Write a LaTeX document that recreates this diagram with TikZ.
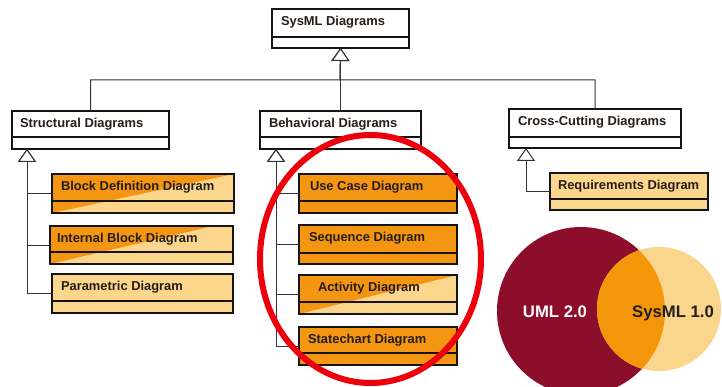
\documentclass[tikz,border=0pt]{standalone}
\usepackage{fontspec}
\setmainfont{Liberation Sans}
\usetikzlibrary{arrows.meta}

\definecolor{boxorange}{RGB}{244,150,18}
\definecolor{boxlight}{RGB}{251,214,140}
\definecolor{umlred}{RGB}{140,14,42}
\definecolor{sysmllight}{RGB}{250,214,140}
\definecolor{overlap}{RGB}{243,150,10}
\definecolor{ink}{RGB}{38,28,24}
\definecolor{ringred}{RGB}{236,0,12}

% one UML class box: name, fill style, x, y, width, height, divider depth, text indent, title
\newcommand\umlclass[9]{%
  \node[classframe, #2, minimum width=#5pt, minimum height=#6pt] (#1) at (#3,#4) {};
  \draw[classline] ([yshift=-#7pt]#1.north west) -- ([yshift=-#7pt]#1.north east);
  \node[boxlabel] (#1-title) at ([xshift=#8pt,yshift=-16.5pt]#1.north west) {#9};
}

\begin{document}
\begin{tikzpicture}[x=1pt,y=-1pt,
  every node/.style={inner sep=0pt, outer sep=0pt},
  classframe/.style={draw=black!92, line width=1.7pt, anchor=north west, rectangle},
  classline/.style={draw=black!92, line width=1.7pt},
  whitefill/.style={fill=white},
  plainfill/.style={fill=boxlight},
  fullorange/.style={fill=boxorange},
  halforange/.style={fill=boxlight, path picture={
      \fill[boxorange] (path picture bounding box.north west)
        -- ([xshift=-#1]path picture bounding box.north east)
        -- (path picture bounding box.south west) -- cycle;}},
  halforange/.default=0pt,
  boxlabel/.style={anchor=base west, text=ink, font=\bfseries\fontsize{12.9}{14}\selectfont},
  gen/.style={draw=black!80, line width=1pt,
      -{Triangle[open, width=18pt, length=13pt, fill=white, line width=1pt]}},
  venntext/.style={anchor=base, font=\bfseries\fontsize{16.7}{18}\selectfont}
]
\useasboundingbox (0,0) rectangle (722,387);
\fill[white] (0,0) rectangle (722,387);

% top of the hierarchy and its three families
\umlclass{sysml}{whitefill}{272}{9}{137}{39}{28}{9}{SysML Diagrams}
\umlclass{strct}{whitefill}{12}{111}{157}{38}{26}{8}{Structural Diagrams}
\umlclass{behav}{whitefill}{260}{111}{161}{38}{26}{9}{Behavioral Diagrams}
\umlclass{cross}{whitefill}{509}{109}{172}{39}{28}{9}{Cross-Cutting Diagrams}

% structural diagrams
\umlclass{bdd}{halforange}{52}{174}{182}{39}{27}{9}{Block Definition Diagram}
\umlclass{ibd}{halforange=20pt}{50}{226}{183}{38}{26}{7}{Internal Block Diagram}
\umlclass{param}{plainfill}{52}{274}{181}{39}{27}{9}{Parametric Diagram}

% behavioral diagrams
\umlclass{ucd}{fullorange}{299}{174}{158}{39}{27}{11}{Use Case Diagram}
\umlclass{seq}{fullorange}{299}{225}{158}{39}{28}{10}{Sequence Diagram}
\umlclass{act}{halforange}{299}{275}{158}{39}{27}{19}{Activity Diagram}
\umlclass{stm}{fullorange}{299}{327}{158}{38}{26}{9}{Statechart Diagram}

% cross-cutting diagrams
\umlclass{req}{plainfill}{550}{173}{158}{37}{26}{8}{Requirements Diagram}

% generalization from the families to SysML Diagrams
\coordinate (bus) at (340,80);
\draw[gen] (strct.north) |- (bus) -- (sysml.south);
\draw[gen] (cross.north) |- (bus) -- (sysml.south);
\draw[gen] (behav.north) -- (sysml.south);

% generalization inside each family
\foreach \kid in {bdd,ibd,param}
  \draw[gen] (\kid.west) -| ([xshift=15pt]strct.south west);
\foreach \kid in {ucd,seq,act,stm}
  \draw[gen] (\kid.west) -| ([xshift=16pt]behav.south west);
\draw[gen] (req.west) -| ([xshift=17pt]cross.south west);

% UML / SysML overlap
\fill[umlred] (581,311) circle [radius=84pt];
\fill[sysmllight] (659,309) circle [radius=62pt];
\begin{scope}
  \clip (581,311) circle [radius=84pt];
  \fill[overlap] (659,309) circle [radius=62pt];
\end{scope}
\node[venntext, text=white] (uml) at (555,317) {UML 2.0};
\node[venntext, text=ink] (sysmlv) at (673,317) {SysML 1.0};

% highlight ring round the behavioral diagrams
\draw[ringred, line width=6pt] (370.5,259) ellipse [x radius=110.5pt, y radius=124pt];
\end{tikzpicture}
\end{document}
